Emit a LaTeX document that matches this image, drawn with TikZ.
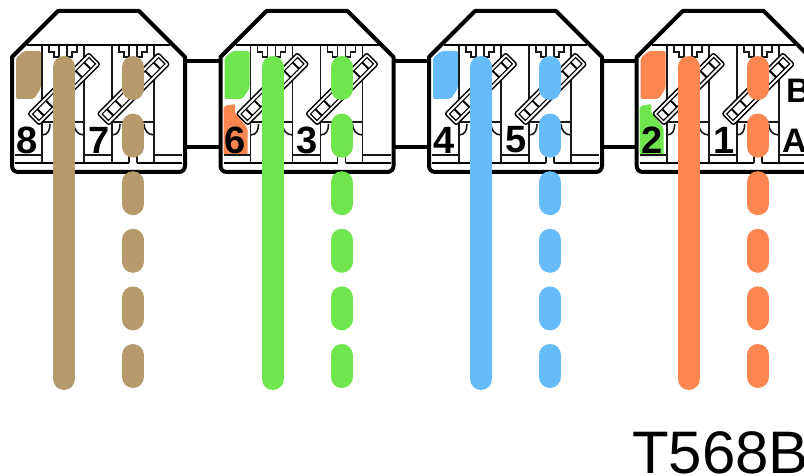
\documentclass[tikz,border=0pt]{standalone}
\usepackage{fontspec}
\setmainfont{Liberation Sans}
\definecolor{wbrown}{HTML}{B79A6C}
\definecolor{wgreen}{HTML}{6FE64E}
\definecolor{wblue}{HTML}{66BBFA}
\definecolor{worange}{HTML}{FC8650}
\tikzset{
  x=1pt,y=-1pt,
  outline/.style={line width=4pt,line join=round,draw=black},
  thinl/.style={line width=1.6pt,draw=black!90},
  wire/.style={line width=22pt,line cap=round},
  digit/.style={font=\fontsize{38}{38}\selectfont\bfseries,inner sep=0pt,text=black},
  side/.style={font=\fontsize{34}{34}\selectfont\bfseries,inner sep=0pt,text=black},
}
\newcommand{\idc}[2]{%
  \begin{scope}[shift={(#1,#2)},rotate=45]
    \draw[line width=1.4pt,fill=white,rounded corners=2pt] (-43,-8) rectangle (43,8);
    \draw[line width=1.2pt] (-40,-4.5) rectangle (40,4.5);
    \foreach \t in {-33,-21,21,33}{\draw[line width=2pt] (\t,-4.5) -- (\t,4.5);}
  \end{scope}}
\newcommand{\contacts}[1]{%
  \draw[thinl] (#1+2,45) -- (#1+2,163);
  \draw[thinl] (#1+44,45) -- (#1+44,163);
  \draw[thinl] (#1+9,46) -- (#1+9,52) -- (#1+14,52) -- (#1+14,57) -- (#1+19,57) (#1+19,46) -- (#1+19,58);
  \draw[thinl] (#1+27,46) -- (#1+27,58) (#1+27,57) -- (#1+32,57) -- (#1+32,52) -- (#1+37,52) -- (#1+37,46);
  \draw[thinl] (#1+2,122) -- (#1+14,122) (#1+2,135) .. controls (#1+8,135) and (#1+10,130) .. (#1+10,124);
  \draw[thinl] (#1+32,122) -- (#1+44,122) (#1+44,135) .. controls (#1+38,135) and (#1+34,130) .. (#1+34,124);
  \draw[thinl] (#1+19,156) -- (#1+19,163) (#1+27,156) -- (#1+27,163);
}
\newcommand{\module}[5]{%
  \begin{scope}[xshift=#1pt]
    \draw[fill=white,outline] (58,11) -- (139,11) -- (185,57)
      [rounded corners=6pt] -- (185,172) -- (12,172) [sharp corners] -- (12,57) -- cycle;
    \draw[line width=1.8pt] (27,45) -- (170,45);
    \fill[#2,rounded corners=2pt] (16,99) -- (16,58) -- (24,51) -- (41,51) -- (41,88) -- (34,99) -- cycle;
    #5
    \contacts{40}\contacts{110}
    \draw[thinl] (15,155) -- (42,155) (84,155) -- (112,155) (154,155) -- (182,155);
    \draw[line width=1.8pt] (15,163) -- (59,163) (69,163) -- (129,163) (137,163) -- (182,163);
    \idc{64}{89}
    \idc{133.5}{89}
    \node[digit] at (27,140) {#3};
    \node[digit] at (99,140) {#4};
    \draw[#2,wire] (64,67) -- (64,379);
    \foreach \yy in {0,...,5}{\draw[#2,wire] (133,67+57.6*\yy) -- (133,89+57.6*\yy);}
  \end{scope}}
\begin{document}
\begin{tikzpicture}
\useasboundingbox (0,0) rectangle (804,476);
\clip (0,0) rectangle (804,476);
\fill[white] (0,0) rectangle (804,476);
\foreach \a/\b in {185/220,394/429,603/637}{
  \draw[line width=3.6pt] (\a,61) -- (\b,61) (\a,147) -- (\b,147);}
\module{0}{wbrown}{8}{7}{}
\module{208.5}{wgreen}{6}{3}{\fill[worange,rounded corners=2pt] (15,155) -- (15,106) -- (27,104) -- (26,112) -- (39,128) -- (39,155) -- cycle;}
\module{417}{wblue}{4}{5}{}
\module{624.7}{worange}{2}{1}{\fill[wgreen,rounded corners=2pt] (15,155) -- (15,106) -- (27,104) -- (26,112) -- (39,128) -- (39,155) -- cycle;}
\node[side,anchor=base west] (sb) at (786,103) {B};
\node[side,anchor=base west] (sa) at (782,153) {A};
\node[font=\fontsize{60}{60}\selectfont,anchor=base west,inner sep=0pt,text=black] (title) at (632,473) {T568B};
\end{tikzpicture}
\end{document}
